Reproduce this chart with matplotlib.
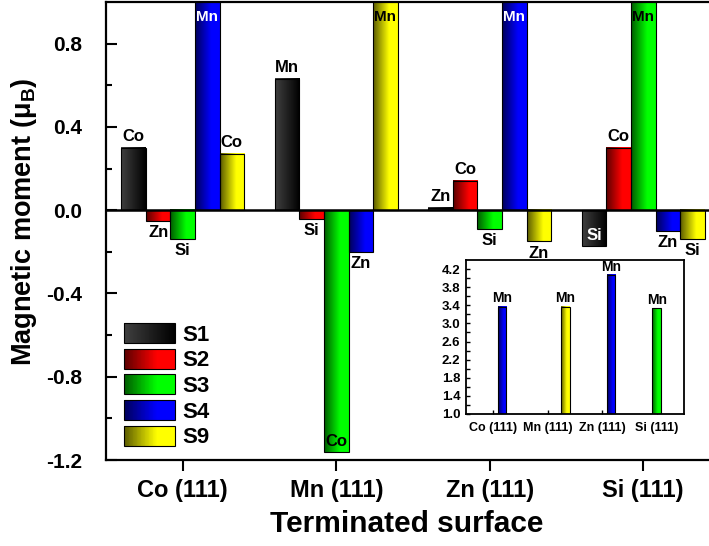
import numpy as np
import matplotlib
matplotlib.use("Agg")
import matplotlib.pyplot as plt
from matplotlib.legend_handler import HandlerBase
from matplotlib.patches import Rectangle

plt.rcParams['font.family'] = ['Liberation Sans', 'DejaVu Sans']
plt.rcParams['font.weight'] = 'bold'
plt.rcParams['mathtext.fontset'] = 'custom'
plt.rcParams['mathtext.rm'] = 'Liberation Sans:bold'
plt.rcParams['mathtext.bf'] = 'Liberation Sans:bold'

# data
groups = ['Co (111)', 'Mn (111)', 'Zn (111)', 'Si (111)']
series = ['S1', 'S2', 'S3', 'S4', 'S9']
s1 = [0.30, 0.63, 0.01, -0.17]
s2 = [-0.05, -0.04, 0.14, 0.30]
s3 = [-0.14, -1.16, -0.09, 3.33]
s4 = [3.37, -0.20, 4.07, -0.10]
s9 = [0.27, 3.37, -0.15, -0.14]
lab1 = ['Co', 'Mn', 'Zn', 'Si']
lab2 = ['Zn', 'Si', 'Co', 'Co']
lab3 = ['Si', 'Co', 'Si', 'Mn']
lab4 = ['Mn', 'Zn', 'Mn', 'Zn']
lab9 = ['Co', 'Mn', 'Zn', 'Si']
values = [s1, s2, s3, s4, s9]
atoms = [lab1, lab2, lab3, lab4, lab9]
# (series, group) labels written inside the bar end
inside = [(0, 3), (2, 1)]

# gradient end colours (left dark -> right bright), S1 goes grey -> black
dark = ['#404040', '#5a0000', '#005a00', '#00005a', '#5a5a00']
bright = ['#000000', '#ff0000', '#00ff00', '#0000ff', '#ffff00']
txt_in = ['white', 'black', 'black', 'white', 'black']


def gradient(c0, c1, n=64, lin=False):
    a = np.array(matplotlib.colors.to_rgb(c0))
    b = np.array(matplotlib.colors.to_rgb(c1))
    t = np.linspace(0, 1, n)
    f = t if lin else np.clip(t / 0.65, 0, 1)
    return a + (b - a) * f[:, None]


grads = [gradient(dark[0], bright[0], lin=True)] + \
        [gradient(dark[k], bright[k]) for k in range(1, 5)]


class GradientHandler(HandlerBase):
    def __init__(self, cols):
        super().__init__()
        self.cols = cols

    def create_artists(self, legend, orig_handle, xdescent, ydescent,
                       width, height, fontsize, trans):
        n = len(self.cols)
        arts = []
        for k, c in enumerate(self.cols):
            arts.append(Rectangle((-xdescent + k * width / n, -ydescent),
                                  width / n * 1.3, height, facecolor=c,
                                  edgecolor='none', lw=0, antialiased=False,
                                  transform=trans))
        arts.append(Rectangle((-xdescent, -ydescent), width, height,
                              facecolor='none', edgecolor='black', lw=0.8,
                              transform=trans))
        return arts


def draw_bars(ax, x, width, vals, grad):
    for xi, v in zip(x, vals):
        ax.imshow(grad[None, :, :], extent=[xi - width / 2, xi + width / 2,
                                            min(0, v), max(0, v)],
                  aspect='auto', interpolation='bilinear', zorder=2)
    ax.bar(x, vals, width, facecolor='none', edgecolor='black', lw=0.8,
           zorder=3)


fig = plt.figure(figsize=(7.09, 5.46), dpi=100)
ax = fig.add_axes([106 / 709, 1 - 460 / 546, 614 / 709, 458 / 546])

idx = np.arange(len(groups))
bw = 0.16
ymin, ymax = -1.2, 1.0
for k in range(5):
    x = idx + (k - 2) * bw
    draw_bars(ax, x, bw, values[k], grads[k])
    for g in range(4):
        v = values[k][g]
        name = atoms[k][g]
        if v > ymax:
            ax.annotate(name, (x[g], ymax), xytext=(0, -6),
                        textcoords='offset points', ha='center', va='top',
                        fontsize=11, fontweight='bold', color=txt_in[k],
                        zorder=5)
        elif (k, g) in inside:
            ax.annotate(name, (x[g], v), xytext=(0, 2),
                        textcoords='offset points', ha='center', va='bottom',
                        fontsize=12, fontweight='bold', color=txt_in[k],
                        zorder=5)
        elif v >= 0:
            ax.annotate(name, (x[g], v), xytext=(0, 3),
                        textcoords='offset points', ha='center', va='bottom',
                        fontsize=12, fontweight='bold', zorder=5)
        else:
            ax.annotate(name, (x[g], v), xytext=(0, -3),
                        textcoords='offset points', ha='center', va='top',
                        fontsize=12, fontweight='bold', zorder=5)

ax.axhline(0, color='black', lw=1.8, zorder=4)
ax.set_xlim(-0.5, 3.5)
ax.set_ylim(ymin, ymax)
ax.set_xticks(idx)
ax.set_xticklabels(groups, fontsize=17, fontweight='bold')
ax.set_yticks(np.arange(-1.2, 0.81, 0.4))
ax.set_yticklabels([f'{t:.1f}' for t in np.arange(-1.2, 0.81, 0.4)],
                   fontsize=15, fontweight='bold')
ax.set_yticks(np.arange(-1.0, 1.0, 0.4), minor=True)
ax.tick_params(axis='y', which='major', direction='in', length=8, width=1.5,
               pad=17)
ax.tick_params(axis='y', which='minor', direction='in', length=4, width=1.5)
ax.tick_params(axis='x', which='major', direction='out', length=8, width=1.5,
               pad=6)
for sp in ax.spines.values():
    sp.set_linewidth(1.6)

ax.set_ylabel(r'Magnetic moment (μ$_\mathrm{B}$)', fontsize=19.5,
              fontweight='bold')
ax.yaxis.label.set_va('center')
ax.yaxis.set_label_coords((24 - 106) / 614, 0.52)
ax.set_xlabel('Terminated surface', fontsize=21.5, fontweight='bold')
ax.xaxis.set_label_coords((407 - 106) / 614, -(524 - 460) / 458)
ax.xaxis.label.set_va('center')

proxies = [Rectangle((0, 0), 1, 1) for _ in series]
leg = ax.legend(proxies, series, loc='upper left',
                bbox_to_anchor=(0.029, 0.299), borderaxespad=0, borderpad=0,
                frameon=False, handlelength=2.3, handleheight=1.0,
                handletextpad=0.35, labelspacing=0.14,
                prop={'size': 16, 'weight': 'bold'},
                handler_map={p: GradientHandler(grads[k])
                             for k, p in enumerate(proxies)})

# inset with the large Mn moments
ax2 = fig.add_axes([466 / 709, 1 - 414 / 546, 218 / 709, 154 / 546])
for k in range(5):
    x = idx + (k - 2) * bw
    draw_bars(ax2, x, bw, values[k], grads[k])
    for g in range(4):
        v = values[k][g]
        if v > 1.0:
            ax2.annotate(atoms[k][g], (x[g], v), xytext=(0, 1),
                         textcoords='offset points', ha='center',
                         va='bottom', fontsize=10, fontweight='bold')
ax2.set_xlim(-0.5, 3.5)
ax2.set_ylim(1.0, 4.4)
ax2.set_xticks(idx)
ax2.set_xticklabels(groups, fontsize=9, fontweight='bold')
ax2.set_yticks(np.arange(1.0, 4.21, 0.4))
ax2.set_yticklabels([f'{t:.1f}' for t in np.arange(1.0, 4.21, 0.4)],
                    fontsize=9.5, fontweight='bold')
ax2.set_yticks(np.arange(1.2, 4.4, 0.4), minor=True)
ax2.tick_params(axis='both', which='both', direction='in', length=3,
                width=1, pad=4)
ax2.tick_params(axis='x', pad=6)
for sp in ax2.spines.values():
    sp.set_linewidth(1.3)

fig.savefig('out.png', dpi=100)
